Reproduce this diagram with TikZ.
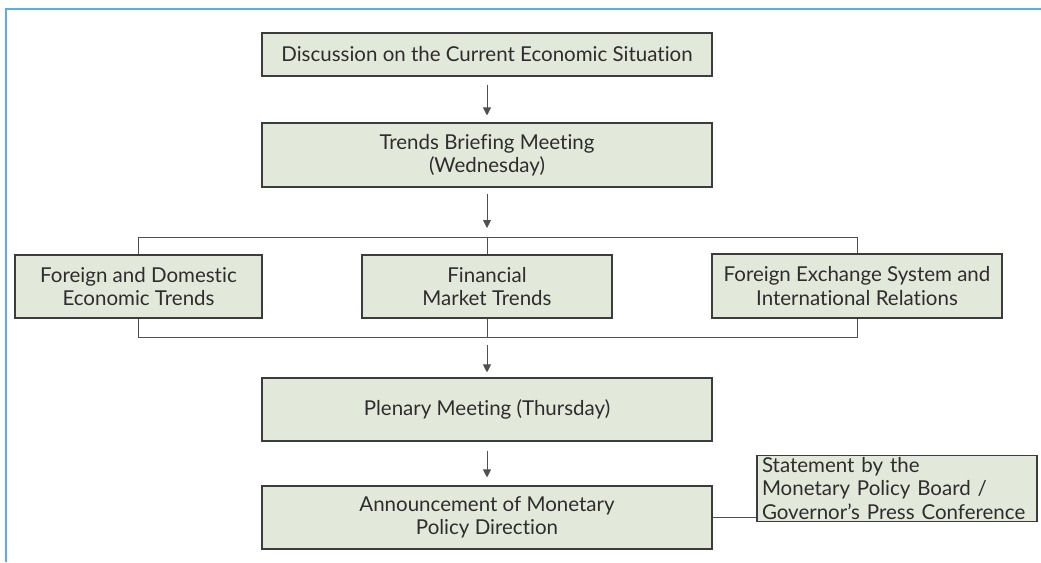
\documentclass[tikz,border=0pt]{standalone}
\usepackage{fontspec}
\setmainfont{Lato}[Ligatures={NoCommon,NoRare,NoDiscretionary}]
\usetikzlibrary{arrows.meta}
\definecolor{boxfill}{RGB}{227,233,218}
\definecolor{boxline}{RGB}{60,60,60}
\definecolor{txt}{RGB}{45,45,45}
\definecolor{frame}{RGB}{91,175,217}
\tikzset{
  x=1pt,y=-1pt,
  flowbox/.style={draw=boxline, line width=1.1pt, fill=boxfill, text=txt, inner sep=0pt,
    align=center, font=\fontsize{20.5}{23.5}\selectfont},
  link/.style={draw=boxline!90, line width=0.9pt},
  arr/.style={link, -{Triangle[width=8pt,length=8pt]}},
}
\begin{document}
\begin{tikzpicture}
\useasboundingbox (0,0) rectangle (1041,562);
\draw[frame, line width=2pt] (6,562) -- (6,9) -- (1041,9);

\node[flowbox, minimum width=450pt, minimum height=43pt] (b1) at (487,54.5) {Discussion on the Current Economic Situation};
\node[flowbox, minimum width=450pt, minimum height=64pt] (b2) at (487,155) {Trends Briefing Meeting\\(Wednesday)};
\node[flowbox, minimum width=247pt, minimum height=63pt] (l) at (138.5,286.5) {Foreign and Domestic\\Economic Trends};
\node[flowbox, minimum width=250pt, minimum height=63pt] (m) at (487,286.5) {Financial\\Market Trends};
\node[flowbox, minimum width=290pt, minimum height=64pt] (r) at (857,286) {Foreign Exchange System and\\International Relations};
\node[flowbox, minimum width=450pt, minimum height=63pt] (p) at (487,409.5) {Plenary Meeting (Thursday)};
\node[flowbox, minimum width=450pt, minimum height=63pt] (a) at (487,517.5) {Announcement of Monetary\\Policy Direction};
\node[flowbox, minimum width=280pt, minimum height=66pt, align=left, text width=270pt] (s) at (897,488.5) {Statement by the\\Monetary Policy Board /\\Governor’s Press Conference};

\coordinate (tb) at (487,237);
\coordinate (bb) at (487,337);

\draw[arr, shorten <=8pt, shorten >=7pt] (b1.south) -- (b2.north);
\draw[arr, shorten <=6pt, shorten >=9pt] (b2.south) -- (tb);
\draw[link] (l.north) -- (l.north |- tb) -- (r.north |- tb) -- (r.north);
\draw[link] (m.north) -- (tb);
\draw[link] (l.south) -- (l.south |- bb) -- (r.south |- bb) -- (r.south);
\draw[link] (m.south) -- (bb);
\draw[arr, shorten <=8pt, shorten >=5pt] (bb) -- (p.north);
\draw[arr, shorten <=9pt, shorten >=8pt] (p.south) -- (a.north);
\draw[link] (a.east) -- (a.east -| s.west);
\end{tikzpicture}
\end{document}
